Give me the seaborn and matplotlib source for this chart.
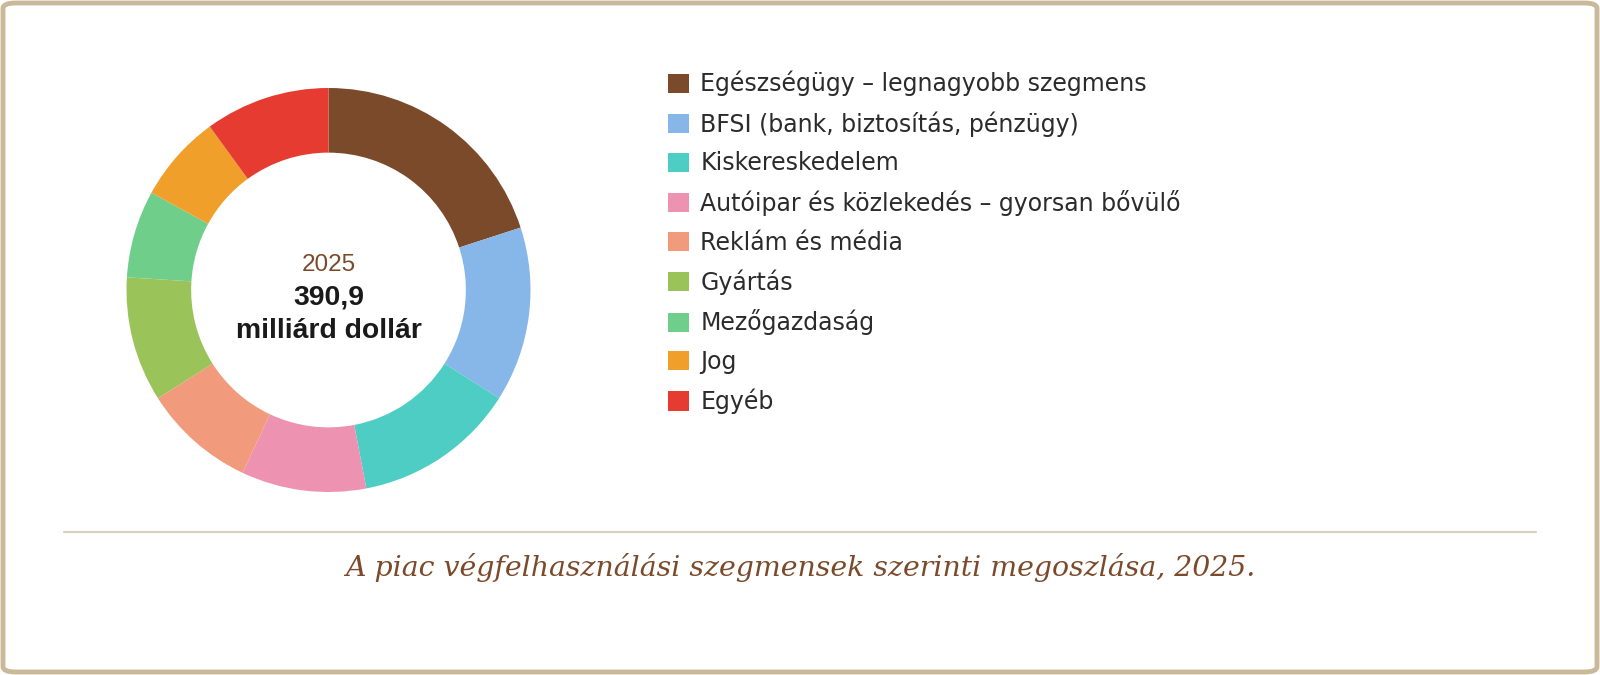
import matplotlib
matplotlib.use("Agg")
import matplotlib.pyplot as plt
from matplotlib.patches import FancyBboxPatch, Patch
from matplotlib.lines import Line2D
import seaborn as sns

# adatok: végfelhasználási szegmensek részesedése (%), 2025
segments = [
    "Egészségügy – legnagyobb szegmens",
    "BFSI (bank, biztosítás, pénzügy)",
    "Kiskereskedelem",
    "Autóipar és közlekedés – gyorsan bővülő",
    "Reklám és média",
    "Gyártás",
    "Mezőgazdaság",
    "Jog",
    "Egyéb",
]
shares = [20, 14, 13, 10, 9, 10, 7, 7, 10]
colors = ["#7b4a2a", "#87b6e8", "#4ecdc4", "#ed93b1", "#f19b7c",
          "#9ac45a", "#6fcf8a", "#f0a02a", "#e63b30"]
center_year = "2025"
center_value = "390,9"
center_unit = "milliárd dollár"
caption = "A piac végfelhasználási szegmensek szerinti megoszlása, 2025."

sns.set_theme(style="white")
plt.rcParams["font.family"] = ["DejaVu Sans"]
palette = sns.color_palette(colors)

W, H = 1600, 675
fig = plt.figure(figsize=(W / 100, H / 100), dpi=100)
fig.patch.set_facecolor("white")

# keret
frame = FancyBboxPatch((3 / W, 3 / H), 1 - 6 / W, 1 - 6 / H,
                       boxstyle="round,pad=0,rounding_size=0.008",
                       transform=fig.transFigure, facecolor="none",
                       edgecolor="#c9b999", linewidth=3.5, zorder=5)
fig.patches.append(frame)

# fánk diagram
cx, cy, r = 328.5, 290, 202
ax = fig.add_axes([(cx - r) / W, (H - cy - r) / H, 2 * r / W, 2 * r / H])
wedges, _ = ax.pie(shares, colors=palette, startangle=90, counterclock=False,
                   radius=1, wedgeprops=dict(width=0.32, linewidth=0))
ax.set_xlim(-1, 1)
ax.set_ylim(-1, 1)
ax.set_aspect("equal")
ax.axis("off")

ax.text(0, 0.125, center_year, ha="center", va="center", fontsize=17.5,
        color="#7b4a2a", family=["Liberation Sans"])
ax.text(0, -0.035, center_value, ha="center", va="center", fontsize=20.4,
        fontweight="bold", color="#1a1a1a", family=["Liberation Sans"])
ax.text(0, -0.205, center_unit, ha="center", va="center", fontsize=20.4,
        fontweight="bold", color="#1a1a1a", family=["Liberation Sans"])

# jelmagyarázat
handles = [Patch(facecolor=c, edgecolor="none") for c in palette]
leg = fig.legend(handles, segments, loc="upper left",
                 bbox_to_anchor=(668 / W, 1 - 71 / H), frameon=False,
                 fontsize=17, handlelength=0.87, handleheight=0.87,
                 handletextpad=0.5, labelspacing=0.62, borderpad=0,
                 borderaxespad=0)
for t in leg.get_texts():
    t.set_color("#2b2b2b")

# elválasztó vonal és felirat
fig.add_artist(Line2D([64 / W, 1536 / W], [1 - 532 / H, 1 - 532 / H],
                      transform=fig.transFigure, color="#d9d0bd", linewidth=1.5))
fig.text(0.5, 1 - 568 / H, caption, ha="center", va="center", fontsize=20.45,
         style="italic", color="#7b4a2a", family=["DejaVu Serif"])

fig.savefig("out.png", dpi=100, facecolor="white")
